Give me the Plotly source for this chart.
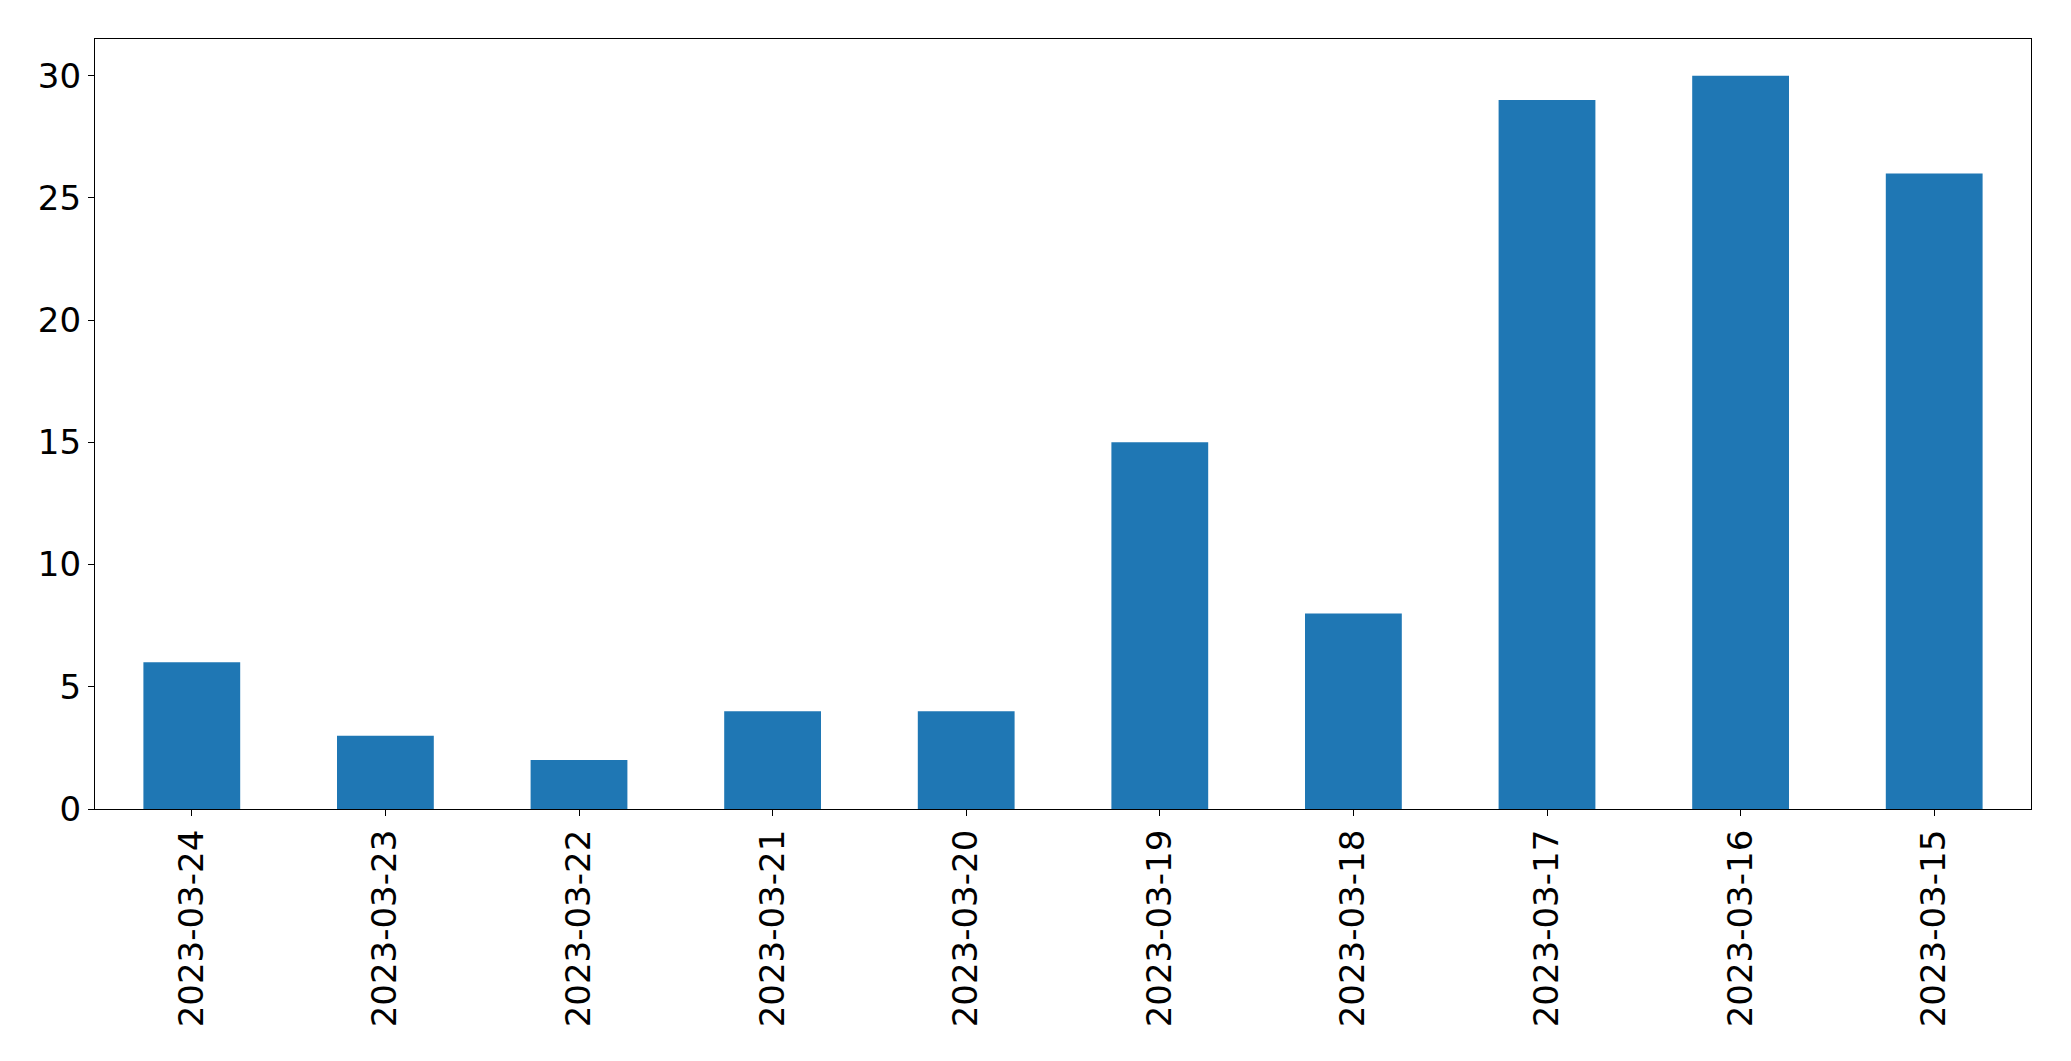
import plotly.graph_objects as go

dates = ["2023-03-24", "2023-03-23", "2023-03-22", "2023-03-21", "2023-03-20",
         "2023-03-19", "2023-03-18", "2023-03-17", "2023-03-16", "2023-03-15"]
counts = [6, 3, 2, 4, 4, 15, 8, 29, 30, 26]
ytick_vals = [0, 5, 10, 15, 20, 25, 30]

fig = go.Figure(go.Bar(x=dates, y=counts, marker=dict(color="#1f77b4", line=dict(width=0))))

fig.update_layout(
    width=2071, height=1061,
    margin=dict(l=95, r=40, t=39, b=252),
    paper_bgcolor="white", plot_bgcolor="white",
    bargap=0.5,
    showlegend=False,
    font=dict(family="DejaVu Sans", size=34, color="black"),
)
fig.update_xaxes(
    type="category", tickangle=-90, range=[-0.5, 9.5],
    showline=True, linecolor="black", linewidth=1.3, mirror=True,
    ticks="outside", ticklen=6, tickwidth=1.3, tickcolor="black",
    showgrid=False, zeroline=False, ticklabelstandoff=0,
)
fig.update_yaxes(
    range=[0, 31.5], tickvals=ytick_vals,
    showline=True, linecolor="black", linewidth=1.3, mirror=True,
    ticks="outside", ticklen=6, tickwidth=1.3, tickcolor="black",
    showgrid=False, zeroline=False, ticklabelstandoff=0,
)
fig.write_html("out.html")
